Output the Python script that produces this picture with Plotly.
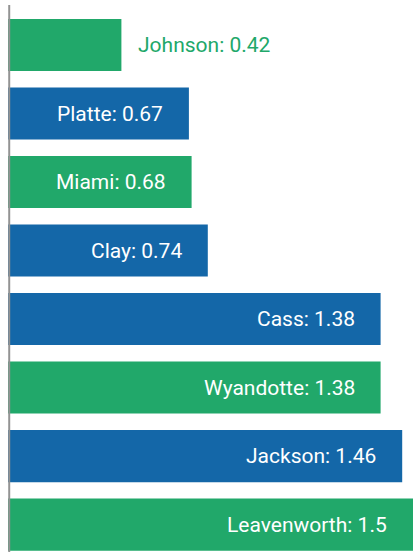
import plotly.graph_objects as go

counties = ["Johnson", "Platte", "Miami", "Clay", "Cass", "Wyandotte", "Jackson", "Leavenworth"]
values = [0.42, 0.67, 0.68, 0.74, 1.38, 1.38, 1.46, 1.5]
groups = ["green", "blue", "green", "blue", "blue", "green", "blue", "green"]

GREEN = "#21A86A"
BLUE = "#1467A8"
cmap = {"green": GREEN, "blue": BLUE}
colors = [cmap[g] for g in groups]

fig = go.Figure(go.Bar(
    x=values, y=counties, orientation="h",
    marker=dict(color=colors, line=dict(width=0)),
    hoverinfo="skip",
))

annotations = []
for c, v, col in zip(counties, values, colors):
    label = f"{c}: {v:g}"
    if v < 0.5:
        annotations.append(dict(x=v, y=c, xref="x", yref="y", text=label, showarrow=False,
                                xanchor="left", xshift=15, font=dict(color=col, size=21, family="Roboto")))
    else:
        annotations.append(dict(x=v, y=c, xref="x", yref="y", text=label, showarrow=False,
                                xanchor="right", xshift=-24, font=dict(color="white", size=21, family="Roboto")))

fig.update_layout(
    width=413, height=552,
    margin=dict(l=8, r=0, t=5, b=0),
    paper_bgcolor="white", plot_bgcolor="white",
    bargap=0.24,
    showlegend=False,
    annotations=annotations,
    xaxis=dict(range=[0, 1.5], visible=False, fixedrange=True),
    yaxis=dict(range=[7.4, -0.585], showticklabels=False, showgrid=False, zeroline=False,
               showline=False, ticks="", fixedrange=True),
    shapes=[dict(type="line", xref="paper", yref="paper", x0=0.003, x1=0.003, y0=0, y1=1,
                 line=dict(color="#939393", width=2), layer="above")],
)

fig.write_html("out.html", config={"displayModeBar": False},
               post_script="document.body.style.margin='0';document.body.style.overflow='hidden';")
